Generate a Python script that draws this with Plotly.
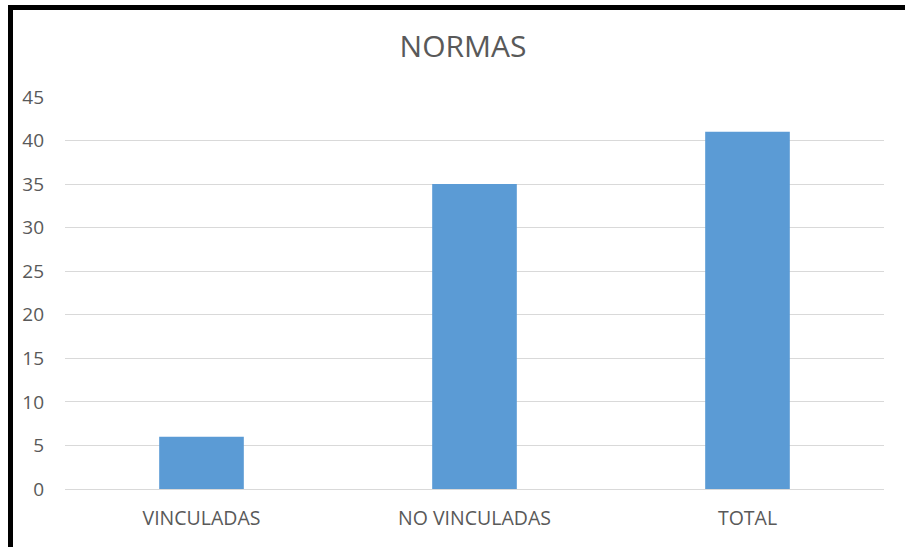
import plotly.graph_objects as go

categories = ["VINCULADAS", "NO VINCULADAS", "TOTAL"]
values = [6, 35, 41]
y_ticks = [0, 5, 10, 15, 20, 25, 30, 35, 40, 45]

W, H = 905, 547
L, R, T, B = 65, 21, 97, 58
pw, ph = W - L - R, H - T - B

def px_x(x):
    return (x - L) / pw

def px_y(y):
    return (H - B - y) / ph

text_color = "#595959"
font_family = "Open Sans, Liberation Sans, sans-serif"

fig = go.Figure(
    go.Bar(
        x=categories,
        y=values,
        marker=dict(color="#5B9BD5", line=dict(width=0)),
        width=0.31,
    )
)

fig.update_layout(
    width=W,
    height=H,
    margin=dict(l=L, r=R, t=T, b=B),
    paper_bgcolor="white",
    plot_bgcolor="white",
    showlegend=False,
    title=dict(
        text="NORMAS",
        x=463 / W,
        xanchor="center",
        y=1 - 46 / H,
        yanchor="middle",
        font=dict(family=font_family, size=30, color=text_color),
    ),
    font=dict(family=font_family, color=text_color),
    shapes=[
        # frame: top and left edges
        dict(type="line", xref="paper", yref="paper",
             x0=px_x(8), x1=px_x(W + 5), y0=px_y(7.5), y1=px_y(7.5),
             line=dict(color="black", width=5)),
        dict(type="line", xref="paper", yref="paper",
             x0=px_x(10.5), x1=px_x(10.5), y0=px_y(5), y1=px_y(H + 5),
             line=dict(color="black", width=5)),
    ],
)

fig.update_xaxes(
    showgrid=False,
    showline=True,
    linecolor="#d9d9d9",
    linewidth=1,
    ticks="",
    tickfont=dict(size=19.5, color=text_color),
    ticklabelstandoff=12,
)
fig.update_yaxes(
    range=[0, 45],
    tickvals=y_ticks,
    showgrid=True,
    gridcolor="#d9d9d9",
    gridwidth=1,
    zeroline=False,
    showline=False,
    ticks="",
    tickfont=dict(size=19, color=text_color),
    ticklabelstandoff=20,
)

fig.write_html("out.html")
